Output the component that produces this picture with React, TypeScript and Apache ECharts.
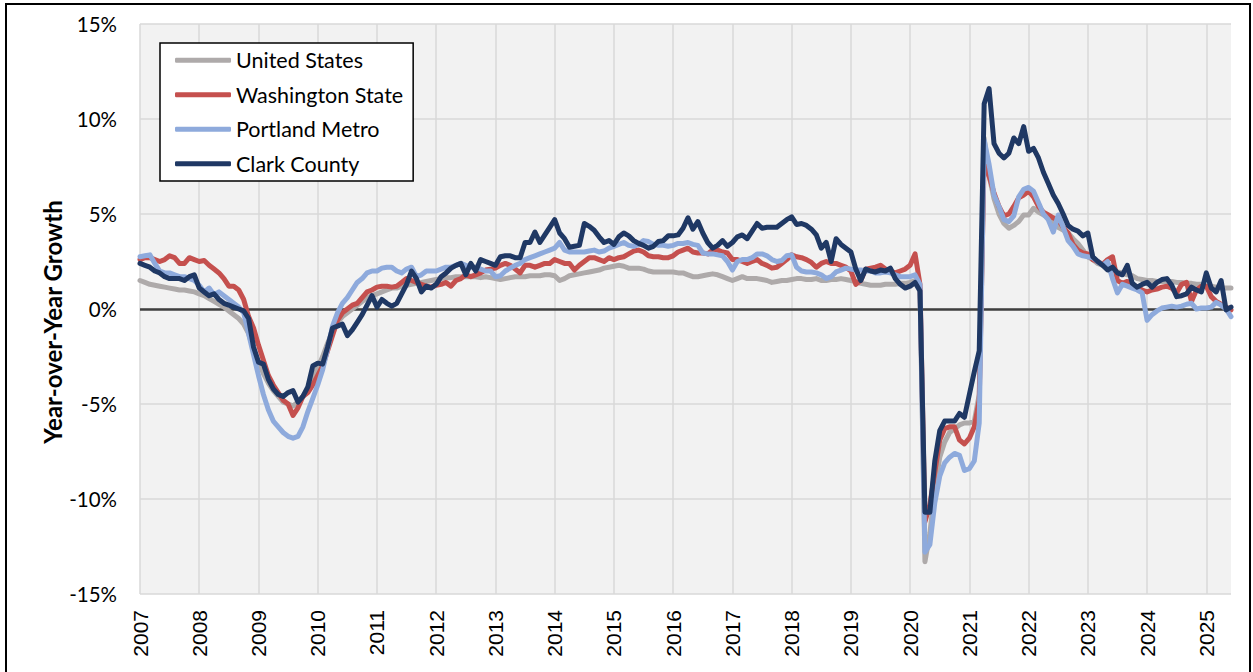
import React, { useEffect, useRef } from "react";
import * as echarts from "echarts";

const seriesNames = ["United States", "Washington State", "Portland Metro", "Clark County"];
const seriesColors = ["#aeaaaa", "#c5504e", "#8eaadc", "#1f3864"];
const yTicks = [-15, -10, -5, 0, 5, 10, 15];
const yAxisTitle = "Year-over-Year Growth";
const startYear = 2007;
const monthCount = 222;

// Year-over-year growth (%), monthly Jan 2007 – Jun 2025
const unitedStates = [
  1.5, 1.4, 1.3, 1.25, 1.2, 1.15, 1.1, 1.05, 1.0, 1.0, 0.95, 0.9,
  0.8, 0.7, 0.55, 0.4, 0.25, 0.1, -0.1, -0.3, -0.5, -0.8, -1.3, -2.1,
  -2.8, -3.4, -3.9, -4.3, -4.6, -4.9, -5.0, -5.1, -4.9, -4.6, -4.2, -3.7,
  -3.1, -2.5, -1.8, -1.2, -0.7, -0.4, -0.2, 0.0, 0.2, 0.4, 0.6, 0.7,
  0.8, 0.9, 1.0, 1.1, 1.1, 1.2, 1.25, 1.3, 1.35, 1.4, 1.45, 1.5,
  1.55, 1.6, 1.65, 1.65, 1.7, 1.7, 1.7, 1.7, 1.7, 1.65, 1.7, 1.65,
  1.6, 1.55, 1.6, 1.65, 1.7, 1.7, 1.7, 1.75, 1.75, 1.75, 1.8, 1.8,
  1.75, 1.5, 1.6, 1.75, 1.8, 1.85, 1.9, 1.95, 2.0, 2.05, 2.15, 2.2,
  2.25, 2.3, 2.25, 2.15, 2.15, 2.15, 2.1, 2.0, 1.95, 1.95, 1.95, 1.95,
  1.95, 1.9, 1.9, 1.8, 1.7, 1.7, 1.75, 1.8, 1.85, 1.8, 1.7, 1.6,
  1.5, 1.6, 1.7, 1.6, 1.6, 1.6, 1.55, 1.5, 1.4, 1.45, 1.5, 1.5,
  1.55, 1.6, 1.6, 1.55, 1.55, 1.6, 1.5, 1.5, 1.55, 1.55, 1.6, 1.55,
  1.5, 1.45, 1.35, 1.3, 1.25, 1.25, 1.25, 1.3, 1.3, 1.3, 1.35, 1.35,
  1.4, 1.5, 1.1, -13.3, -11.8, -9.5, -7.8, -7.0, -6.5, -6.3, -6.1, -6.0,
  -6.0, -5.9, -4.5, 9.0, 7.0, 5.8, 5.0, 4.5, 4.25, 4.4, 4.6, 4.95,
  4.95, 5.3, 5.1, 4.95, 4.8, 4.6, 4.3, 4.15, 4.0, 3.7, 3.45, 3.1,
  2.75, 2.6, 2.4, 2.3, 2.15, 2.05, 1.95, 1.9, 1.8, 1.75, 1.6, 1.55,
  1.5, 1.5, 1.45, 1.45, 1.45, 1.45, 1.4, 1.4, 1.35, 1.35, 1.3, 1.3,
  1.2, 1.2, 1.15, 1.1, 1.1, 1.1,
];

const washingtonState = [
  2.6, 2.7, 2.7, 2.6, 2.5, 2.6, 2.8, 2.7, 2.4, 2.4, 2.7, 2.6,
  2.5, 2.55, 2.3, 2.1, 1.9, 1.6, 1.2, 1.2, 1.0, 0.5, -0.4, -1.0,
  -1.9, -2.7, -3.5, -4.0, -4.4, -4.8, -5.0, -5.6, -5.2, -4.6, -4.4, -4.0,
  -3.5, -3.0, -2.2, -1.4, -0.6, -0.2, 0.0, 0.2, 0.3, 0.6, 0.9, 1.0,
  1.15, 1.2, 1.2, 1.15, 1.2, 1.4, 1.6, 1.5, 1.4, 1.3, 1.2, 1.15,
  1.25, 1.3, 1.4, 1.2, 1.5, 1.6, 1.8, 1.7, 1.8, 1.9, 2.05, 2.1,
  2.15, 2.3, 2.4, 2.3, 2.1, 1.9, 2.3, 2.3, 2.2, 2.3, 2.4, 2.4,
  2.6, 2.5, 2.4, 2.4, 2.05, 2.3, 2.5, 2.7, 2.7, 2.6, 2.5, 2.7,
  2.6, 2.7, 2.75, 2.9, 3.05, 3.1, 3.0, 2.8, 2.75, 2.75, 2.7, 2.7,
  2.8, 3.0, 3.1, 3.2, 3.0, 2.95, 2.95, 2.9, 3.1, 3.1, 3.0, 2.95,
  2.6, 2.6, 2.5, 2.4, 2.5, 2.6, 2.4, 2.3, 2.15, 2.2, 2.4, 2.6,
  2.85, 2.75, 2.7, 2.6, 2.45, 2.2, 2.4, 2.5, 2.4, 2.4, 2.3, 2.2,
  2.0, 1.3, 1.5, 2.1, 2.15, 2.2, 2.3, 2.1, 2.0, 1.9, 2.0, 2.1,
  2.3, 2.9, 1.3, -11.2, -10.3, -8.6, -6.9, -6.3, -6.2, -6.2, -6.9, -7.1,
  -6.8, -6.2, -4.8, 8.0, 7.0, 6.1, 5.4, 4.9, 5.0, 5.4, 5.85, 6.0,
  6.2, 5.9, 5.4, 5.1, 4.95, 4.8, 4.7, 4.3, 4.0, 3.4, 3.1, 2.95,
  2.9, 2.6, 2.5, 2.35, 2.6, 2.75, 1.5, 1.35, 1.45, 1.3, 1.15, 1.0,
  0.9, 1.0, 1.05, 1.15, 1.2, 1.1, 0.85, 1.3, 1.4, 0.4, 1.0, 1.2,
  1.2, 0.65, 0.4, 0.25, 0.1, -0.05,
];

const portlandMetro = [
  2.75, 2.8, 2.85, 2.4, 2.0, 1.9, 1.9, 1.8, 1.7, 1.7, 1.6, 1.5,
  1.25, 0.9, 1.1, 0.75, 0.9, 0.7, 0.5, 0.3, 0.1, -0.2, -1.3, -2.4,
  -3.5, -4.5, -5.3, -5.9, -6.2, -6.5, -6.7, -6.8, -6.7, -6.2, -5.4, -4.7,
  -4.0, -3.2, -2.1, -0.9, -0.2, 0.3, 0.6, 1.0, 1.4, 1.6, 1.9, 2.0,
  2.0, 2.15, 2.2, 2.2, 2.0, 1.9, 2.1, 2.2, 1.7, 1.8, 2.0, 2.0,
  2.0, 2.1, 2.2, 2.2, 2.3, 2.4, 2.3, 2.2, 2.2, 2.1, 2.0, 2.0,
  1.7, 1.75, 2.0, 2.15, 2.3, 2.4, 2.6, 2.7, 2.8, 2.9, 3.0, 3.1,
  3.2, 3.5, 3.1, 3.0, 3.0, 3.0, 3.0, 3.05, 3.1, 3.0, 3.05, 3.2,
  3.3, 3.4, 3.5, 3.35, 3.3, 3.4, 3.6, 3.55, 3.4, 3.35, 3.35, 3.3,
  3.35, 3.45, 3.45, 3.5, 3.4, 3.35, 2.95, 2.9, 2.9, 2.85, 2.8, 2.5,
  2.05, 2.5, 2.6, 2.6, 2.7, 2.9, 2.9, 2.8, 2.6, 2.5, 2.55, 2.8,
  2.85, 2.2, 2.0, 1.95, 1.95, 1.9, 1.8, 1.6, 1.7, 1.95, 2.05, 2.15,
  2.1, 2.05, 2.05, 2.0, 2.0, 1.9, 1.9, 1.95, 1.9, 1.8, 1.7, 1.7,
  1.7, 1.8, 1.3, -12.8, -12.4, -10.2, -8.8, -8.1, -7.8, -7.6, -7.7, -8.5,
  -8.4, -8.0, -6.0, 8.9, 7.6, 6.0, 5.4, 4.7, 4.6, 4.9, 5.9, 6.3,
  6.4, 6.2, 5.6, 5.0, 4.7, 4.05, 4.95, 4.3, 3.6, 3.3, 2.9, 2.8,
  2.75, 2.7, 2.5, 2.3, 2.5, 1.6, 0.85, 1.3, 1.2, 1.1, 1.0, 0.85,
  -0.6, -0.3, -0.1, 0.05, 0.1, 0.15, 0.1, 0.15, 0.25, 0.3, 0.0, 0.05,
  0.05, 0.1, 0.35, 0.2, 0.0, -0.4,
];

const clarkCounty = [
  2.4, 2.3, 2.2, 2.0, 1.9, 1.7, 1.6, 1.6, 1.6, 1.5, 1.7, 1.8,
  1.1, 0.9, 0.7, 0.8, 0.5, 0.3, 0.2, 0.1, 0.0, -0.1, -0.5, -2.0,
  -2.8, -2.9, -3.7, -4.2, -4.5, -4.6, -4.4, -4.3, -4.9, -4.6, -4.1, -3.0,
  -2.85, -2.9, -2.0, -1.0, -0.9, -0.8, -1.4, -1.1, -0.7, -0.3, 0.2, 0.7,
  0.1, 0.5, 0.3, 0.15, 0.3, 0.8, 1.3, 2.0, 1.6, 0.9, 1.2, 1.1,
  1.3, 1.7, 1.9, 2.15, 2.3, 2.4, 1.8, 2.4, 2.0, 2.6, 2.5, 2.4,
  2.3, 2.75, 2.8, 2.8, 2.7, 2.7, 3.5, 3.5, 4.05, 3.5, 3.9, 4.3,
  4.7, 4.0, 3.7, 3.25, 3.3, 3.35, 4.5, 4.35, 4.15, 3.8, 3.5, 3.6,
  3.4, 3.8, 4.0, 3.85, 3.6, 3.45, 3.35, 3.2, 3.3, 3.55, 3.6, 3.85,
  3.85, 3.9, 4.25, 4.8, 4.2, 4.6, 4.0, 3.5, 3.2, 3.35, 3.6, 3.3,
  3.5, 3.8, 3.9, 3.7, 4.1, 4.5, 4.25, 4.3, 4.3, 4.3, 4.5, 4.7,
  4.85, 4.45, 4.5, 4.4, 4.2, 3.9, 3.2, 3.5, 2.5, 3.7, 3.4, 3.2,
  3.0, 2.1, 1.5, 2.1, 2.0, 1.95, 2.05, 2.0, 2.15, 1.6, 1.3, 1.1,
  1.2, 1.4, 0.95, -10.7, -10.7, -8.0, -6.4, -5.9, -5.9, -5.9, -5.5, -5.7,
  -4.5, -3.3, -2.2, 10.8, 11.6, 8.7, 8.2, 7.95, 8.2, 9.0, 8.7, 9.6,
  8.3, 8.45, 7.95, 7.2, 6.6, 6.0, 5.55, 5.0, 4.4, 4.2, 4.1, 3.85,
  4.0, 2.75, 2.5, 2.3, 2.05, 2.2, 1.9, 1.8, 2.3, 1.35, 1.15, 1.3,
  1.4, 1.15, 1.4, 1.55, 1.6, 1.25, 0.65, 0.7, 0.8, 1.15, 1.0, 0.9,
  1.9, 1.1, 0.9, 1.5, -0.05, 0.1,
];

const seriesValues = [unitedStates, washingtonState, portlandMetro, clarkCounty];

const months: string[] = [];
for (let i = 0; i < monthCount; i++) {
  const y = startYear + Math.floor(i / 12);
  const m = (i % 12) + 1;
  months.push(`${y}-${m < 10 ? "0" + m : m}`);
}

const isYearStart = (index: number) => index % 12 === 0;

export default function App() {
  const ref = useRef<HTMLDivElement>(null);

  useEffect(() => {
    if (!ref.current) return;
    const chart = echarts.init(ref.current, null, { renderer: "svg" });

    const series: any[] = seriesNames.map((name, i) => ({
      name,
      type: "line",
      data: seriesValues[i],
      symbol: "none",
      lineStyle: { color: seriesColors[i], width: 5, cap: "round", join: "round" },
      itemStyle: { color: seriesColors[i] },
      z: 3 + i,
      ...(i === 0
        ? {
            markLine: {
              silent: true,
              symbol: "none",
              label: { show: false },
              lineStyle: { color: "#3f3f3f", width: 2.5, type: "solid" },
              data: [{ yAxis: 0 }],
              z: 2,
            },
          }
        : {}),
    }));

    chart.setOption({
      animation: false,
      backgroundColor: "#ffffff",
      grid: {
        left: 140,
        right: 22,
        top: 24,
        bottom: 78,
        show: true,
        backgroundColor: "#f2f2f2",
        borderWidth: 0,
      },
      legend: {
        show: true,
        orient: "vertical",
        left: 160,
        top: 43,
        padding: [5, 10, 5, 15],
        backgroundColor: "#ffffff",
        borderColor: "#000000",
        borderWidth: 1.5,
        itemWidth: 56,
        itemHeight: 5,
        itemGap: 10,
        icon: "roundRect",
        data: seriesNames,
        textStyle: {
          fontFamily: "Lato",
          fontSize: 21.5,
          color: "#000000",
          lineHeight: 24.5,
        },
      },
      xAxis: {
        type: "category",
        data: months,
        boundaryGap: false,
        axisLine: { show: false, onZero: false },
        axisTick: { show: false },
        axisLabel: {
          interval: (index: number) => isYearStart(index),
          formatter: (v: string) => v.slice(0, 4),
          rotate: 90,
          margin: 16,
          fontFamily: "Liberation Sans",
          fontSize: 21,
          color: "#000000",
        },
        splitLine: {
          show: true,
          interval: (index: number) => isYearStart(index),
          lineStyle: { color: "#d9d9d9", width: 1.5 },
        },
      },
      yAxis: {
        type: "value",
        min: yTicks[0],
        max: yTicks[yTicks.length - 1],
        interval: 5,
        axisLine: { show: false },
        axisTick: { show: false },
        axisLabel: {
          formatter: "{value}%",
          margin: 23,
          fontFamily: "Lato",
          fontSize: 20.5,
          color: "#000000",
        },
        splitLine: { show: true, lineStyle: { color: "#d9d9d9", width: 1.5 } },
      },
      graphic: [
        {
          type: "text",
          silent: true,
          x: 52,
          y: 322,
          rotation: Math.PI / 2,
          style: {
            text: yAxisTitle,
            fontFamily: "Lato",
            fontWeight: "bold",
            fontSize: 24,
            fill: "#000000",
            align: "center",
            verticalAlign: "middle",
          },
        },
        {
          type: "rect",
          silent: true,
          shape: { x: 6, y: 4, width: 1244, height: 720 },
          style: { fill: "none", stroke: "#000000", lineWidth: 2 },
          z: 100,
        },
      ],
      series,
    });

    return () => {
      chart.dispose();
    };
  }, []);

  return (
    <div
      ref={ref}
      style={{ position: "fixed", left: 0, top: 0, width: 1253, height: 672 }}
    />
  );
}
